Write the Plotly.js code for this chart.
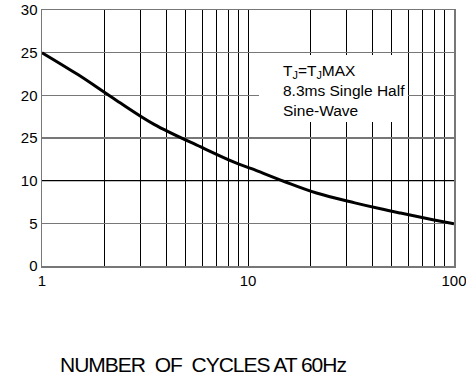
<!DOCTYPE html>
<html>
<head>
<meta charset="utf-8">
<script src="https://cdn.plot.ly/plotly-3.0.1.min.js"></script>
<style>html,body{margin:0;padding:0;background:#fff;}#chart{width:466px;height:381px;}</style>
</head>
<body>
<div id="chart"></div>
<script>
// Data
var cycles = [1, 1.5, 2.3, 3.5, 5.9, 8.5, 10.4, 15, 21.5, 33, 44, 55, 80, 100];
var peakCurrent = [25.0, 22.4, 19.4, 16.6, 13.95, 12.2, 11.4, 9.9, 8.55, 7.4, 6.7, 6.2, 5.4, 4.95];
var xTickVals = [1,2,3,4,5,6,7,8,9,10,20,30,40,50,60,70,80,90,100];
var xTickText = ['1','','','','','','','','','10','','','','','','','','','100'];
var yTickVals = [0, 5, 10, 15, 20, 25, 30];
var yTickText = ['0', '5', '10', '25', '20', '25', '30'];
var xTitle = 'NUMBER\u00A0\u00A0OF\u00A0\u00A0CYCLES AT 60Hz';
var noteText = 'T<sub>J</sub>=T<sub>J</sub>MAX<br>8.3ms Single Half<br>Sine-Wave';

var font = 'Arial, "Liberation Sans", sans-serif';
var trace = {
  x: cycles, y: peakCurrent, type: 'scatter', mode: 'lines',
  line: {color: '#000', width: 3, shape: 'spline'},
  hoverinfo: 'skip'
};
var layout = {
  width: 466, height: 381,
  margin: {l: 42, r: 12, t: 10, b: 115},
  paper_bgcolor: '#fff', plot_bgcolor: '#fff',
  showlegend: false,
  font: {family: font, size: 15, color: '#000'},
  xaxis: {
    type: 'log', range: [0, 2],
    tickvals: xTickVals, ticktext: xTickText,
    showgrid: true, gridcolor: '#000', gridwidth: 1,
    showline: true, linecolor: '#777', linewidth: 1.5, mirror: true,
    ticks: '', tickfont: {family: font, size: 15, color: '#000'},
    ticklabeloverflow: 'allow',
    zeroline: false
  },
  yaxis: {
    range: [0, 30],
    tickvals: yTickVals, ticktext: yTickText,
    showgrid: true, gridcolor: '#777', gridwidth: 1.5,
    showline: true, linecolor: '#777', linewidth: 1.5, mirror: true,
    ticks: '', tickfont: {family: font, size: 15, color: '#000'},
    zeroline: false
  },
  shapes: [
    {type: 'line', xref: 'paper', yref: 'y', x0: 0, x1: 1, y0: 10, y1: 10,
     line: {color: '#000', width: 1.2}, layer: 'above'}
  ],
  annotations: [
    {xref: 'paper', yref: 'paper', x: 0.526, y: 0.824, xanchor: 'left', yanchor: 'top',
     text: ' ', showarrow: false, width: 149, height: 67, bgcolor: '#fff', borderwidth: 0, borderpad: 0},
    {xref: 'paper', yref: 'paper', x: 0.579, y: 0.685, xanchor: 'left', yanchor: 'middle',
     text: noteText, showarrow: false, align: 'left',
     font: {family: font, size: 15.5, color: '#000'}},
    {xref: 'paper', yref: 'paper', x: 0.39, y: -0.383, xanchor: 'center', yanchor: 'middle',
     text: '<span style="letter-spacing:-1px">' + xTitle + '</span>', showarrow: false,
     font: {family: font, size: 21, color: '#000'}}
  ]
};
Plotly.newPlot('chart', [trace], layout, {staticPlot: true, displayModeBar: false});
</script>
</body>
</html>
